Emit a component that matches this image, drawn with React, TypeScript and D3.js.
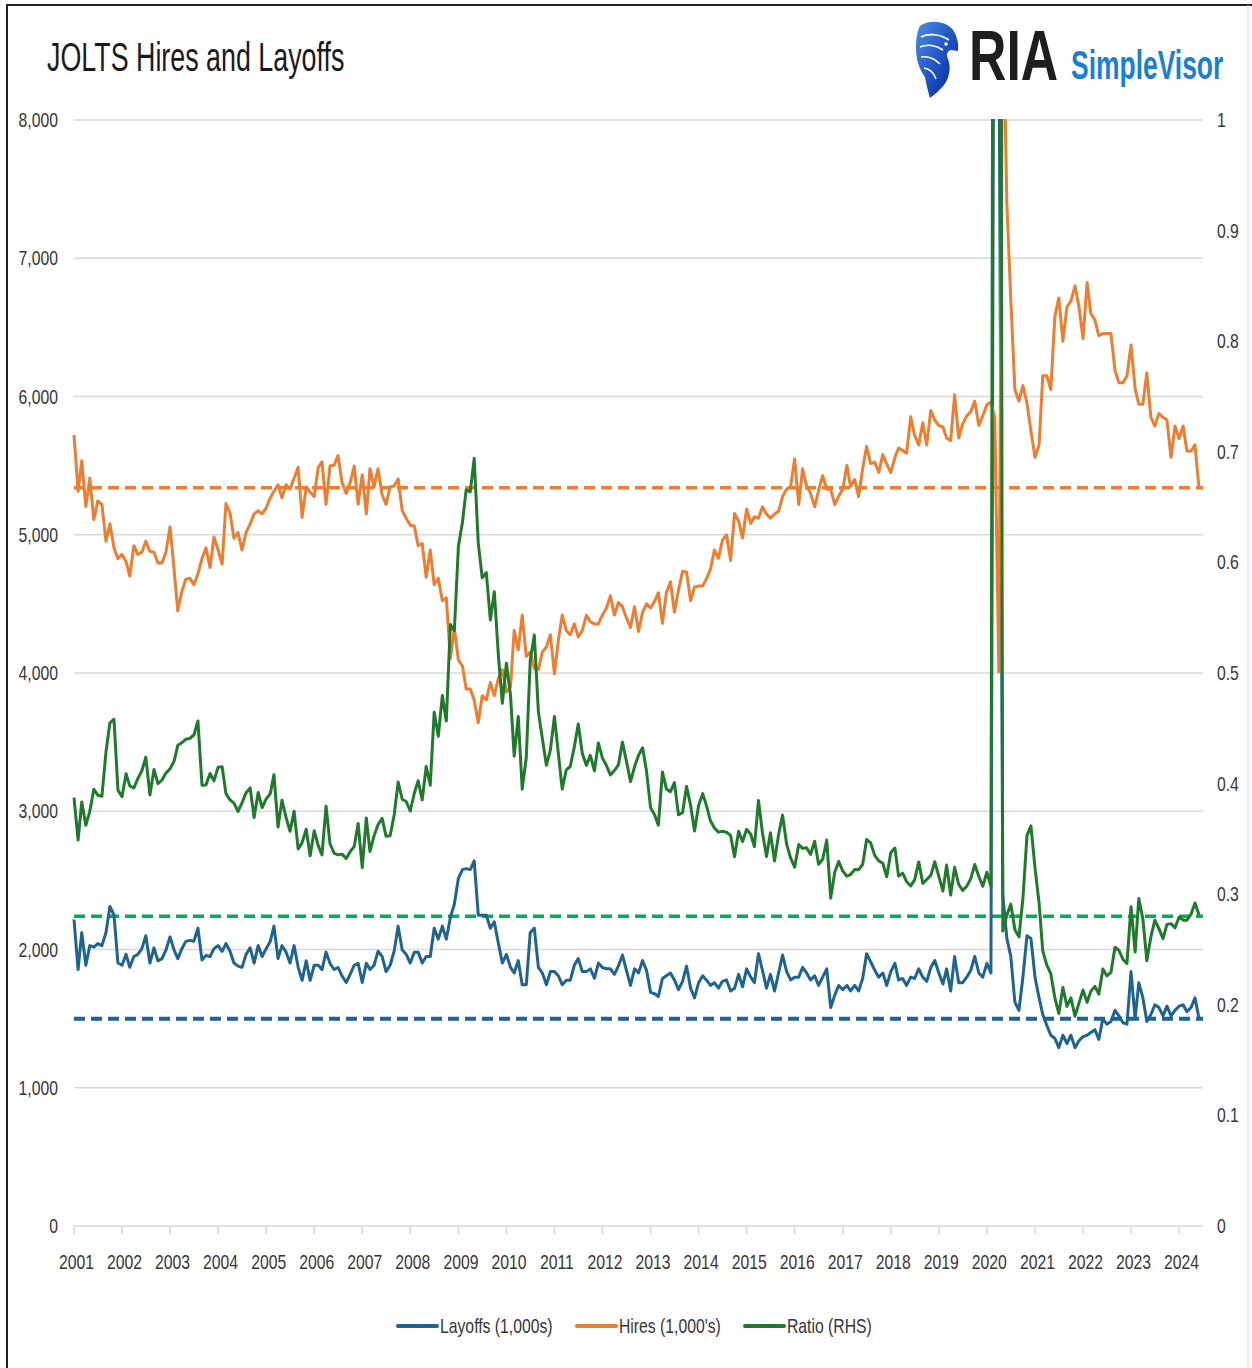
import React from "react";
import * as d3 from "d3";

const W = 1252;
const H = 1368;

const yearLabels = ["2001","2002","2003","2004","2005","2006","2007","2008","2009","2010","2011","2012","2013","2014","2015","2016","2017","2018","2019","2020","2021","2022","2023","2024"];
const leftTicks = [0, 1000, 2000, 3000, 4000, 5000, 6000, 7000, 8000];
const rightTicks = [0, 0.1, 0.2, 0.3, 0.4, 0.5, 0.6, 0.7, 0.8, 0.9, 1];

// Monthly JOLTS Hires (thousands), Jan 2001 - Jun 2024
const hires = [
  5723, 5315, 5535, 5205, 5409, 5110, 5245, 5220, 4953, 5079, 4906, 4827,
  4858, 4805, 4701, 4921, 4858, 4874, 4953, 4880, 4874, 4796, 4796, 4874,
  5057, 4748, 4450, 4591, 4679, 4686, 4638, 4717, 4827, 4906, 4764, 4984,
  4890, 4786, 5226, 5157, 4975, 5016, 4890, 5016, 5079, 5151, 5173, 5151,
  5195, 5267, 5315, 5362, 5267, 5362, 5330, 5409, 5488, 5126, 5346, 5308,
  5277, 5488, 5528, 5220, 5497, 5503, 5572, 5377, 5299, 5377, 5497, 5220,
  5434, 5151, 5478, 5346, 5478, 5289, 5220, 5346, 5352, 5403, 5173, 5120,
  5069, 5063, 4921, 4937, 4692, 4890, 4638, 4686, 4522, 4544, 4104, 4324,
  4094, 4050, 3884, 3884, 3805, 3641, 3836, 3805, 3931, 3836, 3962, 4025,
  3862, 3899, 4308, 4167, 4418, 4120, 4151, 4031, 4025, 4151, 4189, 4277,
  3994, 4245, 4418, 4308, 4277, 4355, 4261, 4308, 4418, 4371, 4355, 4355,
  4420, 4470, 4560, 4420, 4510, 4480, 4400, 4330, 4480, 4300, 4440, 4500,
  4470, 4520, 4580, 4360, 4580, 4660, 4440, 4600, 4735, 4730, 4523, 4620,
  4630, 4630, 4680, 4750, 4890, 4830, 4960, 5000, 4814, 5153, 5100, 4976,
  5186, 5082, 5130, 5120, 5202, 5150, 5120, 5150, 5170, 5276, 5330, 5347,
  5548, 5218, 5477, 5350, 5300, 5202, 5320, 5428, 5330, 5330, 5218, 5280,
  5330, 5502, 5350, 5400, 5276, 5477, 5638, 5515, 5525, 5451, 5580, 5510,
  5450, 5560, 5627, 5610, 5590, 5853, 5720, 5650, 5810, 5650, 5899, 5830,
  5790, 5780, 5700, 5680, 6012, 5700, 5800, 5860, 5890, 5967, 5790, 5860,
  5940, 5960, 5850, 4010, 9000, 7400, 6700, 6050, 5967, 6080, 5950, 5750,
  5560, 5650, 6150, 6150, 6050, 6580, 6712, 6400, 6650, 6690, 6800, 6650,
  6420, 6825, 6600, 6555, 6440, 6455, 6455, 6455, 6190, 6100, 6100, 6150,
  6373, 6057, 5944, 5944, 6170, 5850, 5786, 5876, 5850, 5830, 5560, 5786,
  5695, 5786, 5605, 5605, 5650, 5334,
];

// Monthly JOLTS Layoffs (thousands), Jan 2001 - Jun 2024
const layoffs = [
  2217, 1855, 2122, 1886, 2028, 2018, 2043, 2028, 2122, 2311, 2248, 1902,
  1886, 1965, 1871, 1949, 1965, 2006, 2100, 1902, 2012, 1918, 1934, 1996,
  2091, 1996, 1934, 2006, 2059, 2066, 2059, 2154, 1924, 1956, 1949, 2006,
  2028, 1987, 2043, 1987, 1902, 1880, 1871, 1965, 2012, 1902, 2028, 1949,
  2006, 2059, 2169, 1934, 2028, 1981, 1902, 2028, 1871, 1777, 1918, 1777,
  1886, 1886, 1855, 1981, 1900, 1855, 1870, 1808, 1761, 1820, 1886, 1900,
  1761, 1900, 1855, 1886, 1987, 1950, 1840, 1886, 1990, 2169, 1996, 1965,
  1902, 1981, 1981, 1902, 1949, 1949, 2154, 2075, 2169, 2075, 2232, 2327,
  2515, 2578, 2585, 2578, 2641, 2248, 2248, 2248, 2154, 2200, 2043, 1902,
  1965, 1871, 1830, 1920, 1745, 1745, 2122, 2154, 1871, 1830, 1745, 1840,
  1840, 1808, 1745, 1777, 1777, 1886, 1934, 1840, 1840, 1860, 1792, 1902,
  1870, 1860, 1860, 1820, 1880, 1960, 1850, 1740, 1860, 1830, 1920, 1850,
  1690, 1680, 1660, 1790, 1810, 1830, 1780, 1710, 1770, 1880, 1720, 1650,
  1760, 1810, 1780, 1740, 1760, 1720, 1770, 1780, 1700, 1720, 1820, 1730,
  1860, 1800, 1760, 1970, 1850, 1720, 1820, 1700, 1830, 1960, 1840, 1780,
  1800, 1800, 1870, 1830, 1780, 1810, 1740, 1800, 1860, 1580, 1670, 1740,
  1710, 1740, 1700, 1740, 1700, 1790, 1970, 1910, 1850, 1800, 1830, 1740,
  1840, 1900, 1780, 1790, 1740, 1800, 1790, 1860, 1800, 1770, 1870, 1920,
  1830, 1750, 1860, 1700, 1950, 1760, 1760, 1800, 1850, 1950, 1830, 1800,
  1900, 1830, 11500, 9000, 2400, 2080, 1950, 1620, 1560, 1800, 2100, 2080,
  1800, 1650, 1530, 1450, 1380, 1357, 1290, 1380, 1320, 1380, 1290, 1340,
  1370, 1380, 1400, 1420, 1350, 1500, 1460, 1480, 1560, 1520, 1470, 1460,
  1840, 1500, 1760, 1650, 1480, 1530, 1600, 1580, 1520, 1590, 1520, 1560,
  1590, 1600, 1550, 1580, 1650, 1500,
];

// Reference (dashed) levels
const hiresRef = 5340;
const layoffsRef = 1500;
const ratioRef = 0.28;

const legendItems = [
  { label: "Layoffs (1,000s)", color: "#1f6391" },
  { label: "Hires (1,000's)", color: "#ed7d31" },
  { label: "Ratio (RHS)", color: "#1f7a2c" },
];

const C_LAY = "#1f6391";
const C_HIR = "#ed7d31";
const C_RAT = "#1f7a2c";
const C_RAT_DASH = "#00b050";
const FONT = "'Liberation Sans', Arial, sans-serif";
const SX = 0.75;
const TXT = "#363636";

function T({ x, y, children, anchor = "start", size = 20, fill = TXT, weight = 400, sx = SX }: any) {
  return (
    <text
      transform={`translate(${x},${y}) scale(${sx},1)`}
      textAnchor={anchor}
      fontSize={size}
      fontFamily={FONT}
      fill={fill}
      fontWeight={weight}
    >
      {children}
    </text>
  );
}

export default function App() {
  const start = new Date(2001, 0, 1);
  const end = new Date(2024, 6, 1);
  const dates = d3.timeMonth.range(start, end).slice(0, hires.length);
  const x = d3.scaleTime().domain([start, end]).range([74, 1203]);
  const yL = d3.scaleLinear().domain([0, 8000]).range([1226, 120]);
  const yR = d3.scaleLinear().domain([0, 1]).range([1226, 120]);

  const ratio = layoffs.map((l, i) => l / hires[i]);

  const lineL = d3.line<number>().x((_, i) => x(dates[i])).y((d) => yL(d));
  const lineR = d3.line<number>().x((_, i) => x(dates[i])).y((d) => yR(d));

  const x0 = x.range()[0];
  const x1 = x.range()[1];
  const yearTicks = yearLabels.map((y) => new Date(+y, 0, 1));

  return (
    <div style={{ position: "absolute", left: 0, top: 0 }}>
      <svg width={W} height={H} viewBox={`0 0 ${W} ${H}`} style={{ display: "block", background: "#fff" }}>
        <defs>
          <clipPath id="plotClip">
            <rect x={60} y={119} width={1160} height={1120} />
          </clipPath>
          <linearGradient id="eagleGrad" x1="0" y1="0" x2="1" y2="1">
            <stop offset="0%" stopColor="#4f8fe6" />
            <stop offset="55%" stopColor="#1c4fc0" />
            <stop offset="100%" stopColor="#0b2277" />
          </linearGradient>
        </defs>
        <rect x={0} y={0} width={W} height={H} fill="#fff" />

        {/* frame */}
        <line x1={6} y1={5} x2={W} y2={5} stroke="#222" strokeWidth={2} />
        <line x1={7} y1={5} x2={7} y2={H} stroke="#222" strokeWidth={2} />
        <line x1={1248} y1={5} x2={1248} y2={H} stroke="#d8d8d8" strokeWidth={1} />

        {/* title */}
        <T x={47} y={71} size={41} fill="#1a1a1a" sx={0.655}>JOLTS Hires and Layoffs</T>

        {/* logo */}
        <g>
          <path
            d="M920,26 C930,19 946,21 953,30 C957,36 959,44 958,51 L951,50 C947,51 946,55 948,59 C951,67 950,77 944,85 C940,90 935,94 930,98 C928,91 926,84 925,77 C919,69 916,59 916,48 C916,40 917,31 920,26 Z"
            fill="url(#eagleGrad)"
          />
          <path d="M921,37 C929,33 940,34 949,40" stroke="#fff" strokeWidth={1.6} fill="none" />
          <path d="M920,47 C927,44 936,45 943,50" stroke="#fff" strokeWidth={1.6} fill="none" />
          <path d="M921,57 C928,56 935,59 940,64" stroke="#fff" strokeWidth={1.6} fill="none" />
          <path d="M924,68 C930,69 934,73 936,79" stroke="#fff" strokeWidth={1.4} fill="none" />
          <circle cx={946} cy={44} r={1.8} fill="#fff" />
          <T x={969} y={80} size={70} fill="#1e1e1e" weight={600} sx={0.74}>RIA</T>
          <T x={1071} y={79} size={41} fill="#1a7fd4" weight={700} sx={0.645}>SimpleVisor</T>
        </g>

        {/* gridlines */}
        {leftTicks.filter((t) => t > 0).map((t) => (
          <line key={t} x1={x0} x2={x1} y1={yL(t)} y2={yL(t)} stroke="#d9d9d9" strokeWidth={1.5} />
        ))}
        {/* x axis */}
        <line x1={x0} x2={x1} y1={yL(0)} y2={yL(0)} stroke="#d9d9d9" strokeWidth={1.5} />
        {yearTicks.map((d, i) => (
          <line key={i} x1={x(d)} x2={x(d)} y1={yL(0)} y2={yL(0) + 8} stroke="#d9d9d9" strokeWidth={1.5} />
        ))}
        {yearTicks.map((d, i) => (
          <T key={i} x={x(d) + 2.5} y={1269} size={21} anchor="middle">{yearLabels[i]}</T>
        ))}

        {/* left axis labels */}
        {leftTicks.map((t) => (
          <T key={t} x={58} y={yL(t) + 7} size={21} anchor="end">{d3.format(",")(t)}</T>
        ))}
        {/* right axis labels */}
        {rightTicks.map((t) => (
          <T key={t} x={1217} y={yR(t) + 7} size={21} anchor="start">{d3.format("~g")(t)}</T>
        ))}

        <g clipPath="url(#plotClip)">
          {/* dashed reference lines */}
          <line x1={x0} x2={x1} y1={yL(hiresRef)} y2={yL(hiresRef)} stroke={C_HIR} strokeWidth={3.5} strokeDasharray="11,6" />
          <line x1={x0} x2={x1} y1={yR(ratioRef)} y2={yR(ratioRef)} stroke={C_RAT_DASH} strokeWidth={3.5} strokeDasharray="11,6" />
          <line x1={x0} x2={x1} y1={yL(layoffsRef)} y2={yL(layoffsRef)} stroke={C_LAY} strokeWidth={4} strokeDasharray="11,6" />

          <path d={lineL(layoffs) || ""} fill="none" stroke={C_LAY} strokeWidth={3} strokeLinejoin="round" />
          <path d={lineL(hires) || ""} fill="none" stroke={C_HIR} strokeWidth={3} strokeLinejoin="round" />
          <path d={lineR(ratio) || ""} fill="none" stroke={C_RAT} strokeWidth={3} strokeLinejoin="round" />
        </g>

        {/* legend */}
        {(() => {
          const pos = [
            { lx: 398, tx: 440 },
            { lx: 577, tx: 619 },
            { lx: 745, tx: 787 },
          ];
          return legendItems.map((it, i) => (
            <g key={it.label}>
              <line x1={pos[i].lx} x2={pos[i].lx + 39} y1={1326} y2={1326} stroke={it.color} strokeWidth={4} strokeLinecap="round" />
              <T x={pos[i].tx} y={1333} size={21}>{it.label}</T>
            </g>
          ));
        })()}
      </svg>
    </div>
  );
}
